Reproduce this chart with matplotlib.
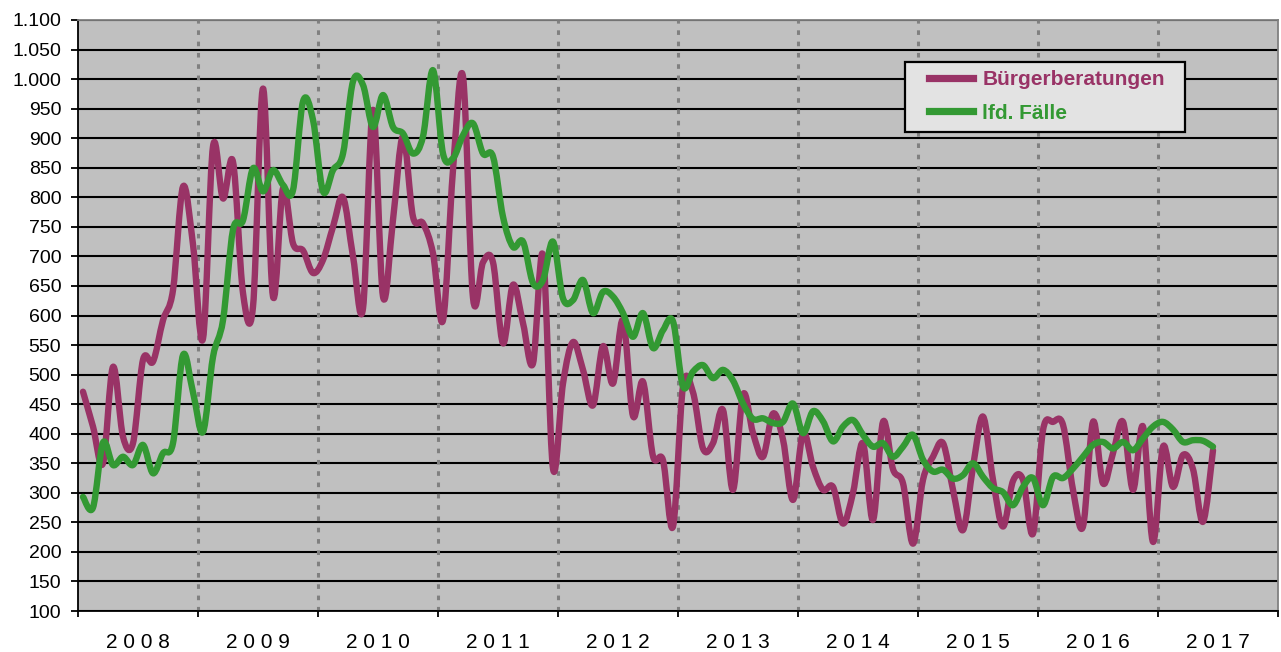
import numpy as np
import matplotlib
matplotlib.use("Agg")
import matplotlib.pyplot as plt
from matplotlib.path import Path
from matplotlib.patches import PathPatch, Rectangle
from matplotlib.lines import Line2D
from matplotlib.ticker import FuncFormatter

plt.rcParams['font.family'] = ['Liberation Sans', 'DejaVu Sans']

## the data, one value per month from Jan 2008 to Jun 2017
years = [2008, 2009, 2010, 2011, 2012, 2013, 2014, 2015, 2016, 2017]
year_labels = ['2 0 0 8', '2 0 0 9', '2 0 1 0', '2 0 1 1', '2 0 1 2',
               '2 0 1 3', '2 0 1 4', '2 0 1 5', '2 0 1 6', '2 0 1 7']

buergerberatungen = [
    471, 412, 350, 513, 395, 384, 525, 522, 592, 643, 818, 720,   # 2008
    561, 886, 798, 860, 638, 615, 984, 632, 815, 722, 710, 672,   # 2009
    694, 750, 800, 700, 612, 948, 632, 762, 903, 767, 756, 705,   # 2010
    592, 846, 1004, 630, 690, 690, 553, 652, 587, 519, 702, 341,  # 2011
    485, 555, 508, 448, 548, 485, 592, 430, 488, 362, 355, 243,   # 2012
    480, 470, 375, 384, 440, 305, 466, 401, 361, 434, 390, 288,   # 2013
    401, 344, 305, 310, 248, 300, 384, 254, 420, 340, 316, 214,   # 2014
    322, 361, 384, 305, 237, 344, 429, 322, 243, 320, 322, 231,   # 2015
    406, 420, 415, 305, 243, 420, 316, 367, 420, 305, 412, 217,   # 2016
    378, 310, 364, 340, 251, 372,                                 # 2017
]

lfd_faelle = [
    293, 275, 385, 347, 361, 347, 381, 333, 367, 384, 533, 470,   # 2008
    403, 530, 592, 745, 761, 849, 810, 846, 821, 812, 962, 931,   # 2009
    810, 846, 874, 996, 990, 919, 973, 919, 908, 874, 903, 1015,  # 2010
    874, 866, 905, 925, 874, 869, 767, 716, 725, 655, 660, 725,   # 2011
    629, 626, 660, 604, 640, 632, 604, 564, 604, 545, 575, 590,   # 2012
    480, 505, 516, 494, 508, 490, 451, 425, 426, 418, 420, 451,   # 2013
    401, 438, 421, 387, 412, 423, 398, 378, 384, 361, 378, 398,   # 2014
    356, 336, 339, 324, 330, 350, 327, 308, 301, 279, 310, 325,   # 2015
    279, 327, 325, 341, 361, 381, 386, 375, 386, 372, 392, 412,   # 2016
    420, 407, 386, 389, 388, 378,                                 # 2017
]

series_names = ['Bürgerberatungen', 'lfd. Fälle']
colors = ['#993366', '#339933']


def smooth_path(values):
    # excel style smoothed line -> catmull-rom segments as cubic beziers
    x = np.arange(len(values)) + 0.5
    pts = np.column_stack([x, values]).astype(float)
    ext = np.vstack([pts[0], pts, pts[-1]])
    verts = [pts[0]]
    codes = [Path.MOVETO]
    for k in range(len(pts) - 1):
        p0, p1, p2, p3 = ext[k], ext[k + 1], ext[k + 2], ext[k + 3]
        verts += [p1 + (p2 - p0) / 6.0, p2 - (p3 - p1) / 6.0, p2]
        codes += [Path.CURVE4] * 3
    return Path(verts, codes)


fig = plt.figure(figsize=(12.81, 6.52), dpi=100)
ax = fig.add_axes([78 / 1281, 1 - 611 / 652, 1200 / 1281, 591 / 652])
ax.set_facecolor('#C0C0C0')

n_months = 12 * len(years)
ax.set_xlim(0, n_months)
ax.set_ylim(100, 1100)

# horizontal grid
ax.set_yticks(np.arange(100, 1101, 50))
ax.yaxis.set_major_formatter(FuncFormatter(lambda v, p: f"{v:,.0f}".replace(",", ".")))
ax.yaxis.grid(True, color='black', lw=1.5)
ax.set_axisbelow(True)

# dotted year separators
for b in range(12, n_months, 12):
    ax.axvline(b, color='#808080', lw=2.2, ls=(0, (1.5, 2.2)), zorder=1)

# year ticks + labels in the middle of each year
ax.set_xticks(np.arange(0, n_months + 1, 12))
ax.set_xticklabels([])
ax.set_xticks(np.arange(6, n_months, 12), minor=True)
ax.set_xticklabels(year_labels, minor=True)

ax.tick_params(axis='y', direction='out', length=5, width=1.3, labelsize=14, pad=7)
ax.tick_params(axis='x', which='major', direction='out', length=4.5, width=1.3)
ax.tick_params(axis='x', which='minor', length=0, labelsize=15, pad=16)

for s in ['left', 'bottom']:
    ax.spines[s].set_color('black')
    ax.spines[s].set_linewidth(1.3)
for s in ['top', 'right']:
    ax.spines[s].set_color('#808080')
    ax.spines[s].set_linewidth(1.3)

# the two smoothed series
for vals, c in zip([buergerberatungen, lfd_faelle], colors):
    patch = PathPatch(smooth_path(vals), fill=False, edgecolor=c, lw=4.6,
                      capstyle='round', joinstyle='round', zorder=3)
    ax.add_patch(patch)

# legend box
fig.patches.append(Rectangle((905 / 1281, 1 - 132 / 652), 280 / 1281, 70 / 652,
                             transform=fig.transFigure, facecolor='#E3E3E3',
                             edgecolor='black', lw=1.6, zorder=4))
handles = [Line2D([], [], color=c, lw=5.2) for c in colors]
fig.legend(handles, series_names, loc='upper left',
           bbox_to_anchor=(929 / 1281, 1 - 70 / 652), frameon=False,
           prop={'size': 15, 'weight': 'bold'}, labelcolor='linecolor',
           handlelength=2.1, handletextpad=0.45, labelspacing=0.7,
           borderpad=0, borderaxespad=0)

fig.savefig('out.png', dpi=100)
